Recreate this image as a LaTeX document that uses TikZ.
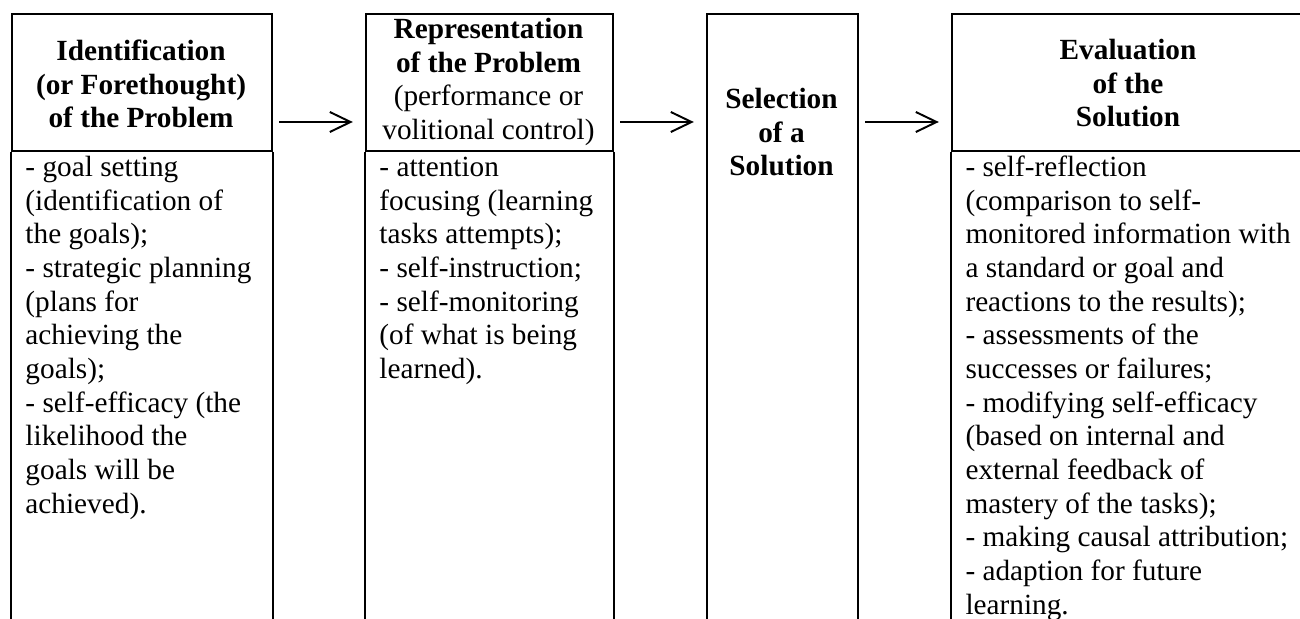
\documentclass[tikz,border=0pt]{standalone}
\usepackage{fontspec}
\setmainfont{Liberation Serif}
\usetikzlibrary{positioning, arrows.meta}

\begin{document}
\begin{tikzpicture}[
  x=0.41pt, y=-0.41pt,
  frame/.style={draw=black, line width=0.8pt},
  head/.style={frame, rectangle, inner sep=0pt, anchor=north west, minimum height=137*0.41pt},
  htext/.style={font=\fontsize{12}{13.8}\selectfont, align=center, inner sep=0pt, anchor=north},
  btext/.style={font=\fontsize{12}{13.8}\selectfont, align=left, inner sep=0pt, anchor=north west},
  flow/.style={line width=0.8pt, -{Straight Barb[length=8.5pt, width=8.2pt]},
    shorten <=2.6pt, shorten >=5pt}
]
  %% --- area visibile (unita': pixel del riferimento) ---
  \useasboundingbox (0,0) rectangle (1300,619);
  \clip (0,0) rectangle (1300,619);
  \coordinate (lvl) at (0,122);   % quota delle frecce

  %% --- colonne con intestazione e corpo aperto in basso ---
  \foreach \name/\xl/\w in {idhead/11/260, rephead/365/247, evalhead/951/354} {
    \node[head, minimum width=\w*0.41pt] (\name) at (\xl,13) {};
    \draw[frame] (\name.south west) -- ++(0,560)
                 (\name.south east) -- ++(0,560);
  }
  %% colonna centrale senza divisione
  \node[head, minimum width=151*0.41pt, minimum height=700*0.41pt] (selbox) at (706,13) {};

  %% --- frecce fra le fasi ---
  \foreach \a/\b in {idhead/rephead, rephead/selbox, selbox/evalhead}
    \draw[flow] (\a.east |- lvl) -- (\b.west |- lvl);

  %% --- titoli ---
  \node[htext] (idtitle) at (141,36.4)
    {\strut\textbf{Identification}\\\textbf{(or Forethought)}\\\textbf{of the Problem}};
  \node[htext] (reptitle) at (488.5,14.4)
    {\strut\textbf{Representation}\\\textbf{of the Problem}\\(performance or\\volitional control)};
  \node[htext] (seltitle) at (781.5,84.4)
    {\strut\textbf{Selection}\\\textbf{of a}\\\textbf{Solution}};
  \node[htext] (evaltitle) at (1128,35.4)
    {\strut\textbf{Evaluation}\\\textbf{of the}\\\textbf{Solution}};

  %% --- elenchi ---
  \node[btext] (idbody) at (25,152.4)
    {\strut- goal setting\\(identification of\\the goals);\\- strategic planning\\(plans for\\
     achieving the\\goals);\\- self-efficacy (the\\likelihood the\\goals will be\\achieved).};
  \node[btext] (repbody) at (379,152.4)
    {\strut- attention\\focusing (learning\\tasks attempts);\\- self-instruction;\\
     - self-monitoring\\(of what is being\\learned).};
  \node[btext] (evalbody) at (965,152.4)
    {\strut- self-reflection\\(comparison to self-\\monitored information with\\
     a standard or goal and\\reactions to the results);\\- assessments of the\\
     successes or failures;\\- modifying self-efficacy\\(based on internal and\\
     external feedback of\\mastery of the tasks);\\- making causal attribution;\\
     - adaption for future\\learning.};
\end{tikzpicture}
\end{document}
